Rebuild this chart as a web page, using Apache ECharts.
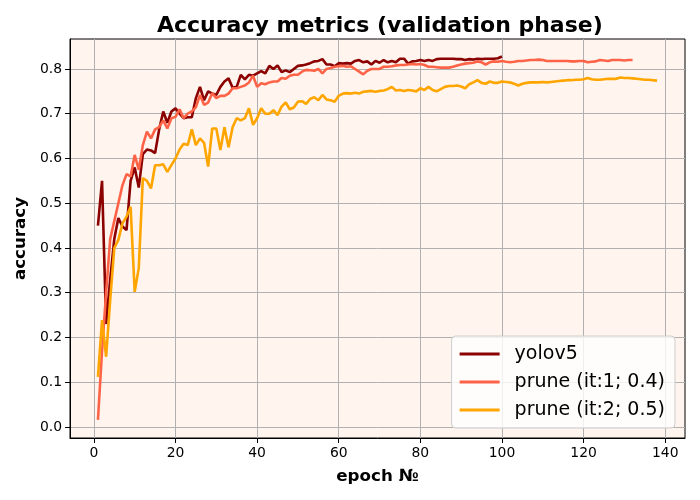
<!DOCTYPE html>
<html><head><meta charset="utf-8">
<script src="https://cdn.jsdelivr.net/npm/echarts@6/dist/echarts.min.js"></script>
<style>html,body{margin:0;padding:0;background:#fff}#c{width:700px;height:500px}</style>
</head><body><div id="c"></div>
<script>
const seriesNames = ['yolov5', 'prune (it:1; 0.4)', 'prune (it:2; 0.5)'];
const seriesColors = ['#8b0000', '#ff6347', '#ffa500'];

// accuracy per epoch (epoch = index + 1)
const yolov5 = [
  0.45, 0.55, 0.23, 0.33, 0.42, 0.467, 0.448, 0.44, 0.55, 0.58,
  0.535, 0.61, 0.62, 0.618, 0.612, 0.665, 0.705, 0.68, 0.705, 0.712,
  0.70, 0.69, 0.692, 0.692, 0.735, 0.76, 0.73, 0.75, 0.745, 0.742,
  0.76, 0.772, 0.779, 0.758, 0.76, 0.787, 0.777, 0.787, 0.785, 0.79,
  0.795, 0.79, 0.807, 0.80, 0.808, 0.793, 0.797, 0.793, 0.80, 0.807,
  0.808, 0.81, 0.813, 0.817, 0.818, 0.822, 0.81, 0.81, 0.806, 0.813,
  0.812, 0.813, 0.812, 0.818, 0.82, 0.815, 0.817, 0.81, 0.818, 0.814,
  0.82, 0.815, 0.818, 0.815, 0.823, 0.823, 0.812, 0.817, 0.818, 0.82,
  0.818, 0.82, 0.818, 0.822, 0.823, 0.823, 0.823, 0.823, 0.822, 0.822,
  0.82, 0.822, 0.821, 0.823, 0.822, 0.823, 0.823, 0.823, 0.824, 0.828
];
const prune1 = [
  0.016, 0.17, 0.30, 0.42, 0.46, 0.50, 0.54, 0.565, 0.56, 0.608,
  0.575, 0.63, 0.66, 0.645, 0.665, 0.67, 0.685, 0.667, 0.69, 0.693,
  0.71, 0.69, 0.70, 0.705, 0.715, 0.742, 0.72, 0.725, 0.746, 0.735,
  0.74, 0.74, 0.745, 0.757, 0.757, 0.76, 0.763, 0.77, 0.785, 0.76,
  0.768, 0.766, 0.77, 0.772, 0.772, 0.78, 0.778, 0.785, 0.787, 0.787,
  0.794, 0.798, 0.797, 0.796, 0.80, 0.79, 0.80, 0.802, 0.805, 0.806,
  0.807, 0.805, 0.806, 0.80, 0.794, 0.788, 0.796, 0.80, 0.80, 0.80,
  0.805, 0.805, 0.806, 0.808, 0.809, 0.809, 0.81, 0.811, 0.81, 0.811,
  0.809, 0.805, 0.805, 0.804, 0.803, 0.803, 0.803, 0.805, 0.808, 0.81,
  0.812, 0.813, 0.814, 0.817, 0.815, 0.81, 0.815, 0.817, 0.816, 0.818,
  0.816, 0.815, 0.816, 0.818, 0.818, 0.819, 0.82, 0.82, 0.821, 0.82,
  0.818, 0.818, 0.818, 0.818, 0.818, 0.818, 0.817, 0.817, 0.818, 0.818,
  0.815, 0.816, 0.817, 0.82, 0.819, 0.818, 0.82, 0.82, 0.82, 0.819,
  0.82, 0.82
];
const prune2 = [
  0.112, 0.239, 0.157, 0.284, 0.40, 0.418, 0.455, 0.47, 0.492, 0.302,
  0.355, 0.556, 0.55, 0.533, 0.585, 0.585, 0.587, 0.57, 0.585, 0.60,
  0.62, 0.633, 0.63, 0.665, 0.63, 0.645, 0.635, 0.582, 0.667, 0.667,
  0.619, 0.67, 0.625, 0.67, 0.69, 0.685, 0.69, 0.712, 0.675, 0.69,
  0.712, 0.70, 0.70, 0.708, 0.697, 0.716, 0.725, 0.71, 0.714, 0.727,
  0.728, 0.722, 0.733, 0.737, 0.73, 0.742, 0.732, 0.73, 0.727, 0.74,
  0.745, 0.746, 0.745, 0.747, 0.745, 0.749, 0.75, 0.751, 0.749, 0.751,
  0.752, 0.755, 0.76, 0.752, 0.753, 0.751, 0.753, 0.752, 0.75, 0.757,
  0.753, 0.76, 0.753, 0.75, 0.755, 0.76, 0.762, 0.762, 0.763, 0.761,
  0.757, 0.766, 0.77, 0.775, 0.769, 0.767, 0.772, 0.769, 0.769, 0.772,
  0.771, 0.77, 0.767, 0.763, 0.767, 0.769, 0.77, 0.77, 0.77, 0.771,
  0.77, 0.771, 0.772, 0.773, 0.774, 0.775, 0.775, 0.776, 0.776, 0.777,
  0.78, 0.777, 0.776, 0.776, 0.777, 0.778, 0.778, 0.778, 0.781, 0.78,
  0.78, 0.779, 0.778, 0.777, 0.776, 0.776, 0.775, 0.774
];
const seriesValues = [yolov5, prune1, prune2];

const xTicks = [0, 20, 40, 60, 80, 100, 120, 140];
const yTicks = [0.0, 0.1, 0.2, 0.3, 0.4, 0.5, 0.6, 0.7, 0.8];

const chart = echarts.init(document.getElementById('c'), null, {renderer: 'canvas'});
const font = 'DejaVu Sans';
chart.setOption({
  animation: false,
  backgroundColor: '#ffffff',
  title: {
    text: 'Accuracy metrics (validation phase)',
    left: 152, top: 10,
    textStyle: {fontFamily: font, fontSize: 22, fontWeight: 'bold', color: '#000'}
  },
  grid: {
    left: 70, right: 15, top: 39, bottom: 62,
    show: true, backgroundColor: '#fff5ee', borderColor: '#000', borderWidth: 1
  },
  legend: {
    orient: 'vertical', right: 25, bottom: 72,
    data: seriesNames,
    icon: 'rect', itemWidth: 40, itemHeight: 3, itemGap: 8,
    padding: [8, 10, 8, 8],
    backgroundColor: 'rgba(255,255,255,0.8)',
    borderColor: '#cccccc', borderWidth: 1, borderRadius: 4,
    textStyle: {fontFamily: font, fontSize: 19, color: '#000', lineHeight: 20, padding: [0, 0, 0, 10]}
  },
  xAxis: {
    type: 'value', min: -5.85, max: 144.85,
    name: 'epoch №', nameLocation: 'middle', nameGap: 30,
    nameTextStyle: {fontFamily: font, fontSize: 16.7, fontWeight: 'bold', color: '#000'},
    axisLine: {show: true, onZero: false, lineStyle: {color: '#000', width: 1}},
    axisTick: {show: true, length: 5, customValues: xTicks, lineStyle: {color: '#000'}},
    axisLabel: {customValues: xTicks, margin: 8, fontFamily: font, fontSize: 13.9, color: '#000'},
    splitLine: {show: true, lineStyle: {color: '#b0b0b0', width: 1}}
  },
  yAxis: {
    type: 'value', min: -0.0246, max: 0.867,
    name: 'accuracy', nameLocation: 'middle', nameGap: 37, nameRotate: 90,
    nameTextStyle: {fontFamily: font, fontSize: 16.7, fontWeight: 'bold', color: '#000'},
    axisLine: {show: true, onZero: false, lineStyle: {color: '#000', width: 1}},
    axisTick: {show: true, length: 5, customValues: yTicks, lineStyle: {color: '#000'}},
    axisLabel: {customValues: yTicks, margin: 8, fontFamily: font, fontSize: 13.9, color: '#000',
      formatter: v => v.toFixed(1)},
    splitLine: {show: true, lineStyle: {color: '#b0b0b0', width: 1}}
  },
  series: seriesNames.map((name, k) => ({
    name: name, type: 'line', symbol: 'none', showSymbol: false,
    color: seriesColors[k],
    lineStyle: {color: seriesColors[k], width: 2.6},
    data: seriesValues[k].map((v, i) => [i + 1, v])
  }))
});
</script></body></html>
